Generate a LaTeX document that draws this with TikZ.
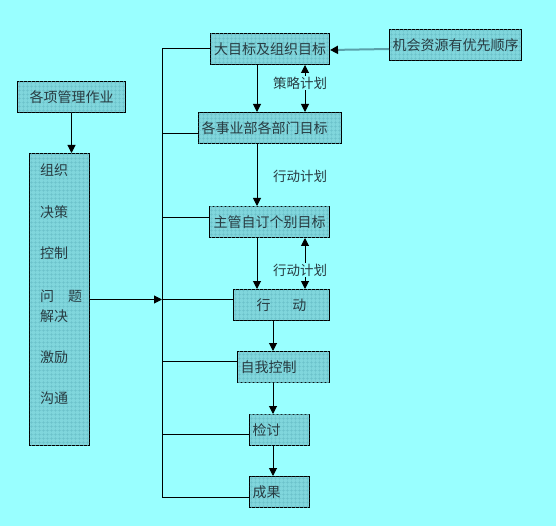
\documentclass[tikz,border=0pt]{standalone}
\usepackage{fontspec}
\setmainfont{Noto Sans CJK SC}
\usetikzlibrary{arrows.meta,patterns.meta}

\definecolor{bgcol}{RGB}{153,255,255}
\definecolor{boxfill}{RGB}{128,214,220}
\definecolor{gridcol}{RGB}{108,194,202}
\definecolor{textcol}{RGB}{40,60,66}
\definecolor{greyline}{RGB}{90,160,170}

\tikzset{
  box/.style={draw, line width=1pt, fill=boxfill,
    postaction={pattern={Hatch[angle=0, distance=4pt, line width=0.4pt]}, pattern color=gridcol},
    anchor=north west, minimum height=31pt, inner sep=3pt, align=left, text=textcol,
    font=\fontsize{14}{16}\selectfont},
  lbl/.style={fill=bgcol, inner sep=1pt, text=textcol, font=\fontsize{13.5}{15}\selectfont},
  item/.style={anchor=west, inner sep=0pt, text=textcol, font=\fontsize{14}{16}\selectfont},
  arr/.style={line width=1pt, -{Triangle[length=8pt,width=8pt]}},
  dbl/.style={line width=1pt, {Triangle[length=8pt,width=8pt]}-{Triangle[length=8pt,width=8pt]}},
  branch/.style={line width=1pt}
}

\begin{document}
\begin{tikzpicture}[x=1pt,y=-1pt]
	\fill[bgcol] (0,0) rectangle (556,526);
	\useasboundingbox (0,0) rectangle (556,526);

	% right column
	\node[box, text width=113pt, align=center] (goal) at (210,33) {大目标及组织目标};
	\node[box, text width=126pt, align=center] (prio) at (389,29) {机会资源有优先顺序};
	\node[box, text width=137pt] (dept) at (198,112) {各事业部各部门目标};
	\node[box, text width=114pt, align=center] (manager) at (209,206) {主管自订个别目标};
	\node[box, text width=90pt, align=center] (act) at (233,289) {行\hspace{22pt}动};
	\node[box, text width=86pt] (selfctl) at (237,351) {自我控制};
	\node[box, text width=54pt] (review) at (249,414) {检讨};
	\node[box, text width=54pt] (result) at (249,476) {成果};

	% left column
	\node[box, text width=102pt, align=center] (duties) at (17,81) {各项管理作业};
	\node[box, text width=54pt, minimum height=292pt] (funcs) at (29,153) {};
	\foreach \txt/\yy in {组织/170, 决策/212, 控制/253, 问\hspace{14pt}题/296, 解决/316, 激励/357, 沟通/398}
	  \node[item] at (40,\yy) {\txt};

	% helper columns
	\coordinate (colA) at (257,0);
	\coordinate (colB) at (305,0);
	\coordinate (colC) at (273,0);
	\coordinate (spine) at (162,0);

	% vertical flow
	\draw[arr] (goal.south -| colA) -- (dept.north -| colA);
	\draw[dbl] (goal.south -| colB) -- (dept.north -| colB);
	\draw[arr] (dept.south -| colA) -- (manager.north -| colA);
	\draw[arr] (manager.south -| colA) -- (act.north -| colA);
	\draw[dbl] (manager.south -| colB) -- (act.north -| colB);
	\draw[arr] (act.south -| colC) -- (selfctl.north -| colC);
	\draw[arr] (selfctl.south -| colC) -- (review.north -| colC);
	\draw[arr] (review.south -| colC) -- (result.north -| colC);
	\draw[arr] (duties.south) -- (funcs.north -| duties.south);

	\node[lbl] at (300,83) {策略计划};
	\node[lbl] at (300,176) {行动计划};
	\node[lbl] at (300,270) {行动计划};

	% priorities into goals
	\draw[line width=2pt, greyline, -{Triangle[length=8pt,width=8pt,black]}] ([yshift=-4pt]prio.west) -- ([yshift=-1pt]goal.east);

	% spine and branches
	\draw[branch] (goal.west) -- (goal.west -| spine) -- ([yshift=-5.5pt]result.west -| spine);
	\draw[branch] ([yshift=-5.5pt]dept.west) -- ([yshift=-5.5pt]dept.west -| spine);
	\draw[branch] ([yshift=4.5pt]manager.west) -- ([yshift=4.5pt]manager.west -| spine);
	\draw[branch] ([yshift=5.5pt]act.west) -- ([yshift=5.5pt]act.west -| spine);
	\draw[branch] ([yshift=5.5pt]selfctl.west) -- ([yshift=5.5pt]selfctl.west -| spine);
	\draw[branch] ([yshift=-4.5pt]review.west) -- ([yshift=-4.5pt]review.west -| spine);
	\draw[branch] ([yshift=-5.5pt]result.west) -- ([yshift=-5.5pt]result.west -| spine);
	\draw[arr] (funcs.east) -- (funcs.east -| spine);
\end{tikzpicture}
\end{document}
